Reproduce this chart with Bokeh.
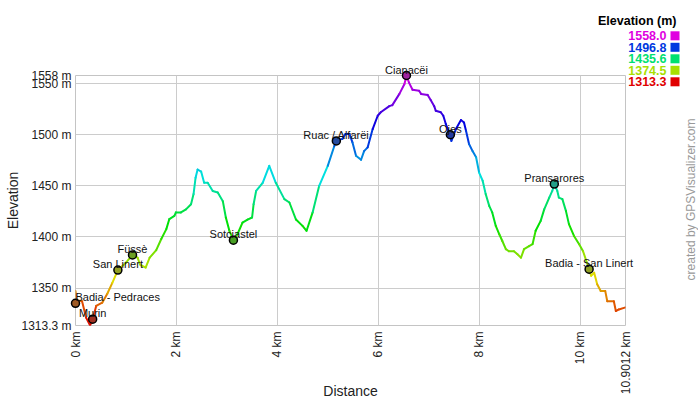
import colorsys
import math
from bokeh.plotting import figure
from bokeh.models import Range1d, FixedTicker, ColumnDataSource, CustomJSTickFormatter
from bokeh.core.properties import value
from bokeh.embed import file_html
from bokeh.resources import INLINE

# ---------------- data ----------------
dist_km = [0.0, 0.02, 0.13, 0.21, 0.29, 0.34, 0.41, 0.53, 0.63, 0.73, 0.84, 1.0, 1.13, 1.23,
           1.28, 1.39, 1.47, 1.6, 1.7, 1.8, 1.86, 1.96, 1.99, 2.09, 2.19, 2.29, 2.34, 2.38,
           2.42, 2.49, 2.55, 2.62, 2.72, 2.82, 2.92, 2.98, 3.05, 3.13, 3.21, 3.31, 3.41, 3.5,
           3.53, 3.58, 3.71, 3.84, 3.97, 4.14, 4.24, 4.37, 4.5, 4.58, 4.7, 4.83, 5.0, 5.13,
           5.17, 5.29, 5.35, 5.43, 5.49, 5.56, 5.66, 5.72, 5.79, 5.89, 5.99, 6.05, 6.22, 6.28,
           6.42, 6.52, 6.56, 6.61, 6.68, 6.81, 6.85, 6.98, 7.04, 7.11, 7.14, 7.24, 7.29, 7.34,
           7.39, 7.43, 7.45, 7.54, 7.64, 7.7, 7.74, 7.8, 7.87, 7.94, 8.0, 8.07, 8.13, 8.2,
           8.26, 8.33, 8.4, 8.46, 8.53, 8.59, 8.69, 8.76, 8.83, 8.89, 8.99, 9.06, 9.12, 9.22,
           9.29, 9.39, 9.45, 9.49, 9.55, 9.58, 9.65, 9.72, 9.78, 9.88, 9.98, 10.06, 10.18,
           10.22, 10.28, 10.34, 10.41, 10.5, 10.54, 10.67, 10.71, 10.77, 10.9012]
elev_m = [1347, 1338, 1337, 1321, 1313.3, 1319.5, 1332.5, 1335.6, 1344.4, 1355, 1367.6, 1374.8,
          1382.4, 1379.7, 1373, 1370, 1379.7, 1387, 1398, 1407.6, 1417.5, 1420.6, 1424, 1424,
          1427, 1432, 1442, 1458, 1466, 1464, 1453, 1453, 1445, 1443.5, 1435, 1419, 1406,
          1396.8, 1402.6, 1414, 1417, 1419, 1432, 1445, 1453, 1469.6, 1453, 1437, 1433.7, 1417,
          1410.8, 1406, 1424, 1450, 1469.6, 1489, 1494, 1496, 1500.7, 1500.7, 1492.5, 1479.4,
          1475.5, 1484, 1487.6, 1505.6, 1518.6, 1522, 1528, 1529, 1540, 1549.7, 1558, 1551,
          1544, 1543, 1540, 1539, 1534, 1528, 1523.5, 1522, 1518.6, 1510.5, 1504, 1500, 1494,
          1505.6, 1514.4, 1512, 1504, 1491, 1484, 1478, 1463, 1455, 1442, 1430.4, 1424, 1410.8,
          1402.6, 1396, 1388, 1386, 1386, 1383, 1379.7, 1388, 1391, 1393, 1406, 1415.7, 1427,
          1438.5, 1445, 1451.7, 1445, 1438.5, 1437, 1425.5, 1412.5, 1401, 1393, 1386, 1368.4,
          1362, 1365, 1353.6, 1347, 1347, 1337, 1337, 1327.5, 1329, 1331]

wp_names = ["Badia - Pedraces", "Murin", "San Linert", "Füssè", "Sotciastel",
            "Ruac / Alfarëi", "Cianacëi", "Ojes", "Pransarores", "Badia - San Linert"]
wp_km = [0.0, 0.34, 0.84, 1.13, 3.13, 5.17, 6.56, 7.43, 9.49, 10.18]
wp_elev = [1335, 1319.5, 1367.6, 1382.4, 1396.8, 1494, 1558, 1500, 1451.7, 1368.4]

x_ticks = [0, 2, 4, 6, 8, 10, 10.9012]
y_ticks = [1313.3, 1350, 1400, 1450, 1500, 1550, 1558]
legend_title = "Elevation (m)"
legend_values = [1558.0, 1496.8, 1435.6, 1374.5, 1313.3]
credit_text = "created by GPSVisualizer.com"

E_MIN, E_MAX = 1313.3, 1558.0
X_MAX = 10.9012
FONT = "Liberation Sans"

# layout constants (pixels inside the figure canvas)
FL, FT, FW, FH = 75, 75, 550, 250   # frame left, top, width, height
BR, BB = 73, 72                     # right / bottom borders
FR, FB = FL + FW, FT + FH


def elev_color(e):
    t = min(max((e - E_MIN) / (E_MAX - E_MIN), 0.0), 1.0)
    r, g, b = colorsys.hsv_to_rgb(t * 300.0 / 360.0, 1.0, 0.88)
    return "#%02x%02x%02x" % (round(r * 255), round(g * 255), round(b * 255))


def muted(c, k=0.55):
    r, g, b = (int(c[i:i + 2], 16) for i in (1, 3, 5))
    mix = lambda v: round(v * k + 0x50 * (1 - k))
    return "#%02x%02x%02x" % (mix(r), mix(g), mix(b))


def px_x(fx):   # canvas pixel -> data x
    return (fx - FL) / FW * X_MAX


def px_y(fy):   # canvas pixel -> data y
    return E_MIN + (FB - fy) / FH * (E_MAX - E_MIN)


p = figure(frame_width=FW, frame_height=FH,
           min_border_left=FL, min_border_right=BR, min_border_top=FT,
           min_border_bottom=BB,
           x_range=Range1d(0, X_MAX), y_range=Range1d(E_MIN, E_MAX),
           output_backend="svg", toolbar_location=None)
p.background_fill_color = "white"
p.border_fill_color = "white"
p.outline_line_color = "#c4c4c4"

# axes
p.xaxis.ticker = FixedTicker(ticks=x_ticks)
p.yaxis.ticker = FixedTicker(ticks=y_ticks)
p.xaxis.formatter = CustomJSTickFormatter(code="return tick + ' km'")
p.yaxis.formatter = CustomJSTickFormatter(code="return tick + ' m'")
p.xaxis.major_label_orientation = math.pi / 2
for ax in (p.xaxis, p.yaxis):
    ax.axis_line_color = None
    ax.major_tick_line_color = None
    ax.minor_tick_line_color = None
    ax.major_tick_out = 0
    ax.major_tick_in = 0
    ax.minor_tick_out = 0
    ax.minor_tick_in = 0
    ax.major_label_text_font = FONT
    ax.major_label_text_font_size = "12px"
    ax.major_label_text_color = "#222222"
    ax.axis_label_text_font = FONT
    ax.axis_label_text_font_size = "14px"
    ax.axis_label_text_font_style = "normal"
    ax.axis_label_text_color = "#222222"
p.xaxis.axis_label = "Distance"
p.yaxis.axis_label = "Elevation"
p.xaxis.major_label_standoff = 6
p.yaxis.major_label_standoff = 4
p.xaxis.axis_label_standoff = -14
p.yaxis.axis_label_standoff = -3
p.grid.grid_line_color = "#cccccc"
p.grid.grid_line_width = 1

# profile line coloured by elevation
seg = ColumnDataSource(dict(
    x0=dist_km[:-1], x1=dist_km[1:], y0=elev_m[:-1], y1=elev_m[1:],
    c=[elev_color((a + b) / 2) for a, b in zip(elev_m[:-1], elev_m[1:])]))
p.segment(x0="x0", y0="y0", x1="x1", y1="y1", line_color="c", line_width=2,
          line_cap="round", source=seg)

# waypoints
wp_src = ColumnDataSource(dict(x=wp_km, y=wp_elev, name=wp_names,
                               c=[muted(elev_color(e)) for e in wp_elev]))
p.scatter(x="x", y="y", source=wp_src, size=8, fill_color="c",
          line_color="black", line_width=1.5, level="overlay")

first_src = ColumnDataSource(dict(x=wp_km[:1], y=wp_elev[:1], name=wp_names[:1]))
rest_src = ColumnDataSource(dict(x=wp_km[1:], y=wp_elev[1:], name=wp_names[1:]))
for src, align in ((first_src, "left"), (rest_src, "center")):
    p.text(x="x", y="y", text="name", source=src, text_align=align,
           text_baseline="alphabetic", y_offset=-6, text_font=value(FONT),
           text_font_size="11px", text_color="#111111", level="overlay")

# colour legend (top right, outside the frame)
p.text(x=[px_x(676)], y=[px_y(20)], text=[legend_title], text_align="right",
       text_baseline="middle", text_font=value(FONT), text_font_size="12.5px",
       text_font_style="bold", text_color="#000000", level="overlay")
row_y = [px_y(35.3 + 11.5 * i) for i in range(len(legend_values))]
row_c = [elev_color(v) for v in legend_values]
p.text(x=[px_x(666)] * len(legend_values), y=row_y,
       text=["%.1f" % v for v in legend_values], text_align="right",
       text_baseline="middle", text_font=value(FONT), text_font_size="12.5px",
       text_font_style="bold", text_color=row_c, level="overlay")
for yc, col in zip(row_y, row_c):
    h = 4.5 / FH * (E_MAX - E_MIN)
    p.varea(x=[px_x(670), px_x(679)], y1=[yc - h, yc - h], y2=[yc + h, yc + h],
            fill_color=col, level="overlay")

# credit
p.text(x=[px_x(690)], y=[px_y(199)], text=[credit_text], angle=math.pi / 2,
       text_align="center", text_baseline="middle", text_font=value(FONT),
       text_font_size="12px", text_color="#999999", level="overlay")

open("out.html", "w").write(file_html(p, INLINE))
